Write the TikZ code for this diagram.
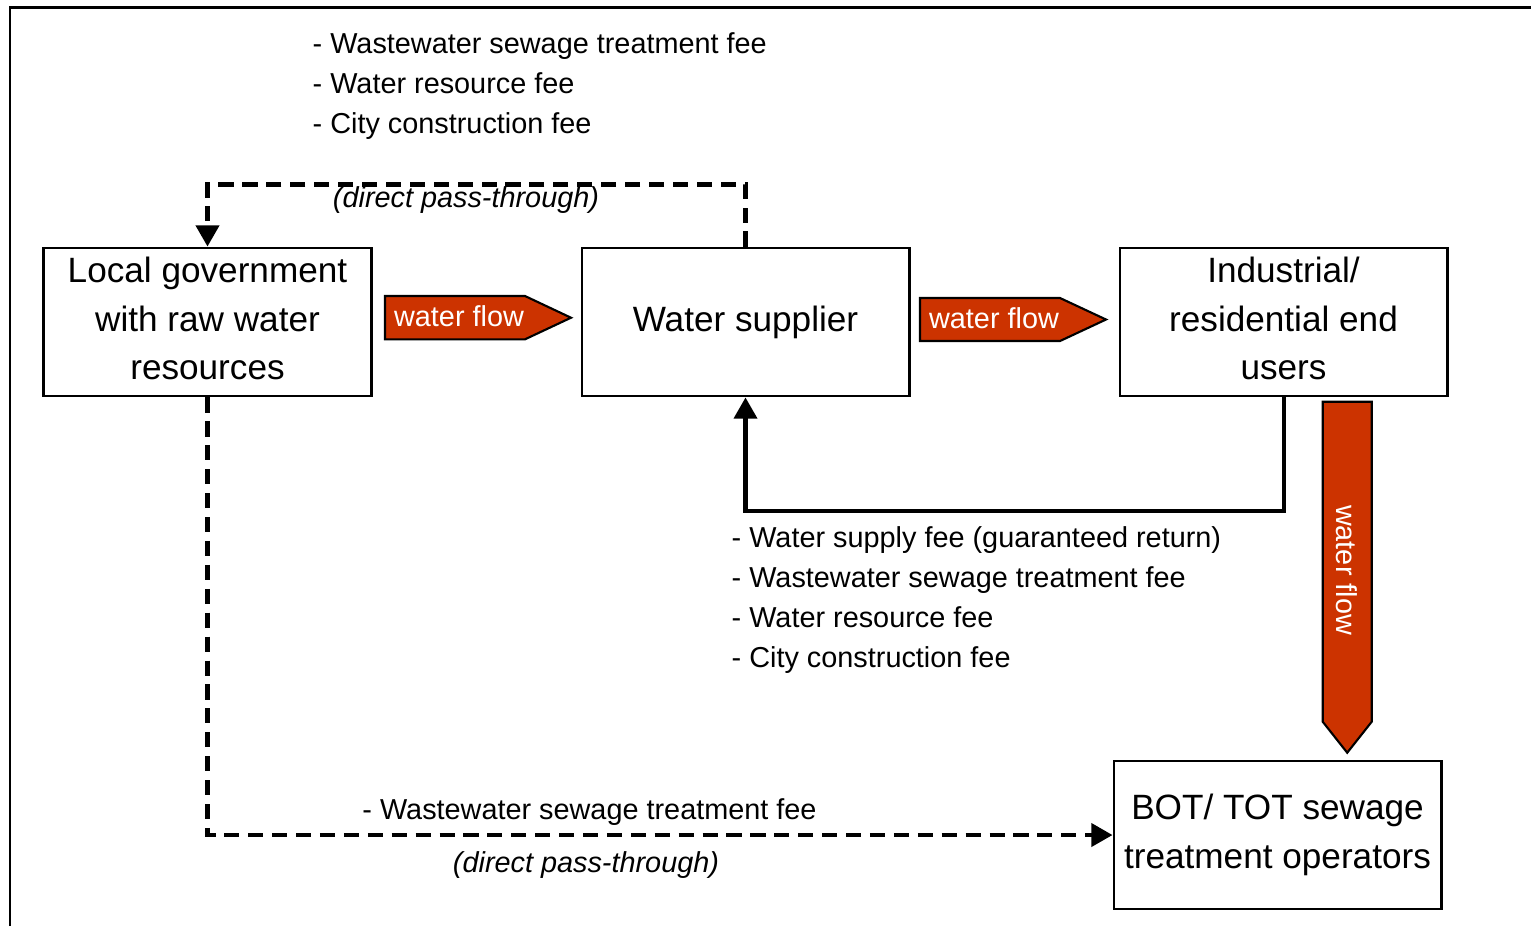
\documentclass[tikz,border=0pt]{standalone}
\usepackage{fontspec}
\setmainfont{Liberation Sans}
\usetikzlibrary{arrows.meta}
\definecolor{flowred}{RGB}{204,51,0}
\begin{document}
\begin{tikzpicture}[x=0.01cm,y=-0.01cm,>={Triangle[length=6pt,width=6.5pt]}]
	\tikzset{party/.style={draw,line width=0.8pt,minimum width=3.27cm,minimum height=1.48cm,inner sep=0pt,align=center,font=\fontsize{10}{13.8}\selectfont},
		fees/.style={inner sep=0pt,align=left,anchor=north west,font=\fontsize{8.2}{11.4}\selectfont},
		note/.style={inner sep=0pt,anchor=base,font=\fontsize{8.2}{11.4}\selectfont},
		passnote/.style={note,font=\fontsize{8.2}{11.4}\selectfont\itshape},
		dashline/.style={line width=1.2pt,dash pattern=on 4.3pt off 2.5pt},
		flow/.style={fill=flowred,draw=black,line width=0.6pt},
		flowtext/.style={text=white,inner sep=0pt,font=\fontsize{8.2}{10}\selectfont}}
	\useasboundingbox (0,0) rectangle (1531,926);
	\draw[line width=0.85pt] (10,926)--(10,7)--(1531,7);
	\node[party] (lg) at (207.5,322) {Local government\\with raw water\\resources\vphantom{g}};
	\node[party] (ws) at (745.5,322) {Water supplier};
	\node[party] (eu) at (1283.5,322) {Industrial/\\residential end\\users\vphantom{g}};
	\node[party] (bot) at (1277.5,835) {BOT/ TOT sewage\\treatment operators};
	\draw[flow] (385,296)--(525,296)--(571,317.7)--(525,339.3)--(385,339.3)--cycle;
	\draw[flow] (920,298)--(1060,298)--(1106,319.5)--(1060,341)--(920,341)--cycle;
	\draw[flow] (1322.7,401.7)--(1371.7,401.7)--(1371.7,721.7)--(1347.2,752.7)--(1322.7,721.7)--cycle;
	\node[flowtext] (wf1) at (459,316) {water flow};
	\node[flowtext] (wf2) at (994,318) {water flow};
	\node[flowtext,rotate=-90] (wf3) at (1347,570) {water flow};
	\draw[dashline,->] (ws.north)--++(0,-62)-|(lg.north);
	\draw[dashline,->] (lg.south)|-(bot.west);
	\draw[line width=1.15pt,->] (eu.south)--++(0,114)-|(ws.south);
	\node[fees] (topfees) at (312,32) {- Wastewater sewage treatment fee\\- Water resource fee\\- City construction fee};
	\node[fees] (midfees) at (731,526) {- Water supply fee (guaranteed return)\\- Wastewater sewage treatment fee\\- Water resource fee\\- City construction fee};
	\node[passnote] (pass1) at (466,207) {(direct pass-through)};
	\node[note] (wwfee) at (589.5,819) {- Wastewater sewage treatment fee};
	\node[passnote] (pass2) at (586,872) {(direct pass-through)};
\end{tikzpicture}
\end{document}
